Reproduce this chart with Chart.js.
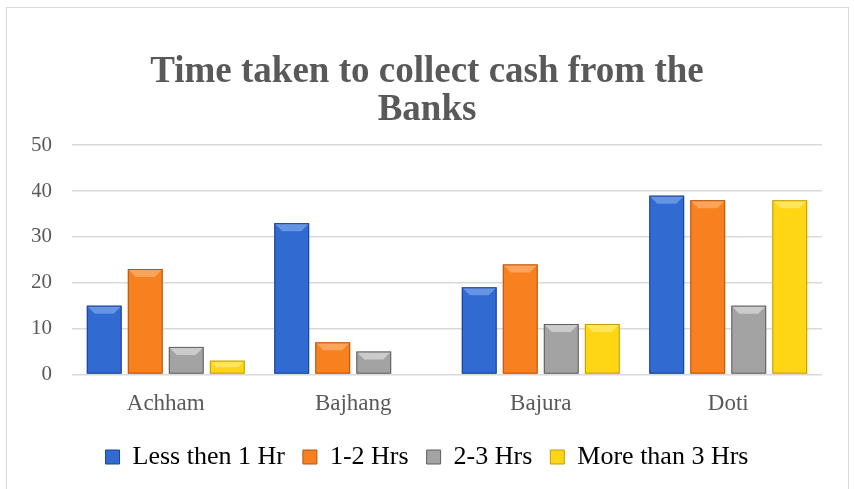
<!DOCTYPE html>
<html lang="en">
<head>
    <meta charset="UTF-8"/>
    <title>Time taken to collect cash from the Banks</title>
    <script src="https://cdn.jsdelivr.net/npm/chart.js@4.4.1/dist/chart.umd.min.js"></script>
    <style>
        body { margin: 0; background: #ffffff; }
    </style>
</head>
<body>

<canvas id="chart" width="854" height="489"></canvas>

<script>
    // districts on the x axis
    const districts = ['Achham', 'Bajhang', 'Bajura', 'Doti'];

    // number of responses per time band
    const lessThan1Hr = [15, 33, 19, 39];
    const oneToTwoHrs = [23, 7, 24, 38];
    const twoToThreeHrs = [6, 5, 11, 15];
    const moreThan3Hrs = [3, 0, 11, 38];

    const seriesNames = ['Less then 1 Hr', '1-2 Hrs', '2-3 Hrs', 'More than 3 Hrs'];
    const yTicks = [0, 10, 20, 30, 40, 50];

    // [edge, middle, top highlight] per series
    const palette = [
        ['#1b4290', '#316ad0', '#6f9be6'],
        ['#b85410', '#f7801f', '#fbaa66'],
        ['#5e5e5e', '#a3a3a3', '#d2d2d2'],
        ['#c29c00', '#ffd614', '#ffe766']
    ];

    const font = "'Liberation Serif', 'DejaVu Serif', serif";
    const textColor = '#595959';

    function barFill(i) {
        return function (ctx) {
            const el = ctx.element;
            if (!el || el.width === undefined || isNaN(el.x)) return palette[i][1];
            const c = ctx.chart.ctx;
            const g = c.createLinearGradient(el.x - el.width / 2, 0, el.x + el.width / 2, 0);
            g.addColorStop(0, palette[i][0]);
            g.addColorStop(0.2, palette[i][1]);
            g.addColorStop(0.8, palette[i][1]);
            g.addColorStop(1, palette[i][0]);
            return g;
        };
    }

    // light top bevel on each bar
    const bevel = {
        id: 'bevel',
        afterDatasetsDraw(chart) {
            const c = chart.ctx;
            chart.data.datasets.forEach((ds, i) => {
                chart.getDatasetMeta(i).data.forEach(bar => {
                    const h = bar.base - bar.y;
                    if (h < 1) return;
                    const half = bar.width / 2;
                    const d = Math.min(8, h / 2);
                    c.save();
                    c.fillStyle = palette[i][2];
                    c.globalAlpha = 0.85;
                    c.beginPath();
                    c.moveTo(bar.x - half, bar.y);
                    c.lineTo(bar.x + half, bar.y);
                    c.lineTo(bar.x + half - d, bar.y + d);
                    c.lineTo(bar.x - half + d, bar.y + d);
                    c.closePath();
                    c.fill();
                    c.globalAlpha = 1;
                    c.strokeStyle = palette[i][0];
                    c.lineWidth = 1;
                    c.strokeRect(bar.x - half + 0.5, bar.y + 0.5, bar.width - 1, h - 1);
                    c.restore();
                });
            });
        }
    };

    // thin frame around the whole chart
    const frame = {
        id: 'frame',
        beforeDraw(chart) {
            const c = chart.ctx;
            c.save();
            c.fillStyle = '#ffffff';
            c.fillRect(0, 0, chart.width, chart.height);
            c.strokeStyle = '#d9d9d9';
            c.lineWidth = 1;
            c.strokeRect(6.5, 7.5, 842, 490);
            c.restore();
        }
    };

    const series = [lessThan1Hr, oneToTwoHrs, twoToThreeHrs, moreThan3Hrs];

    new Chart(document.getElementById('chart'), {
        type: 'bar',
        data: {
            labels: districts,
            datasets: series.map((values, i) => ({
                label: seriesNames[i],
                data: values,
                backgroundColor: barFill(i),
                borderWidth: 0
            }))
        },
        options: {
            responsive: false,
            animation: false,
            devicePixelRatio: 1,
            categoryPercentage: 0.875,
            barPercentage: 0.85,
            layout: {
                padding: {left: 32, right: 32, top: 53, bottom: 9}
            },
            scales: {
                y: {
                    min: 0,
                    max: 50,
                    afterBuildTicks(axis) {
                        axis.ticks = yTicks.map(v => ({value: v}));
                    },
                    afterFit(axis) {
                        axis.width = 40;
                    },
                    border: {display: false},
                    grid: {color: '#d9d9d9', lineWidth: 1.5, drawTicks: false},
                    ticks: {
                        color: textColor,
                        padding: 20,
                        font: {family: font, size: 21}
                    }
                },
                x: {
                    border: {display: false},
                    grid: {display: false},
                    ticks: {
                        color: textColor,
                        padding: 8,
                        font: {family: font, size: 23}
                    }
                }
            },
            plugins: {
                title: {
                    display: true,
                    text: ['Time taken to collect cash from the', 'Banks'],
                    color: textColor,
                    font: {family: font, size: 37, weight: 'bold', lineHeight: 1.03},
                    padding: {top: 0, bottom: 16}
                },
                legend: {
                    position: 'bottom',
                    labels: {
                        color: textColor,
                        boxWidth: 14,
                        boxHeight: 14,
                        padding: 18,
                        font: {family: font, size: 26},
                        generateLabels(chart) {
                            return chart.data.datasets.map((ds, i) => ({
                                text: ds.label,
                                fillStyle: palette[i][1],
                                strokeStyle: palette[i][0],
                                lineWidth: 1,
                                datasetIndex: i
                            }));
                        }
                    }
                },
                tooltip: {enabled: false}
            }
        },
        plugins: [frame, bevel]
    });
</script>

</body>
</html>
